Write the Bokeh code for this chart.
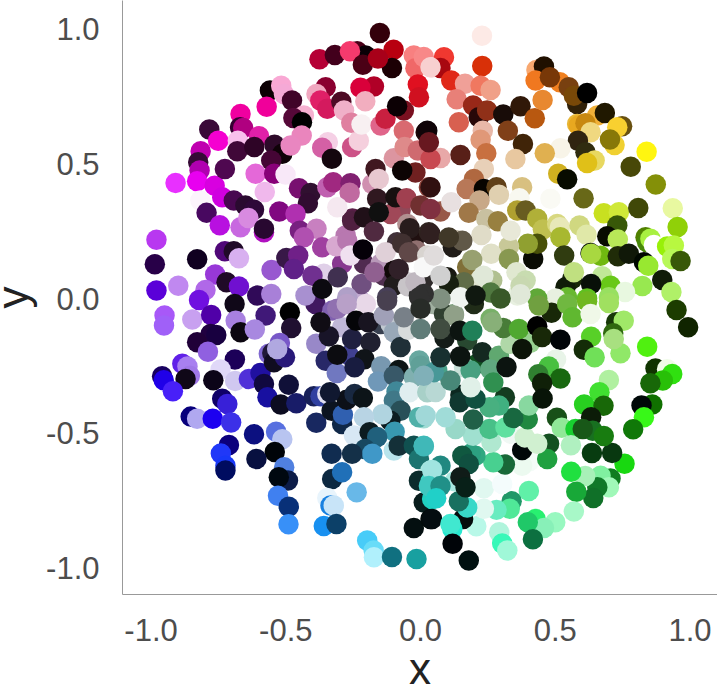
from bokeh.plotting import figure
from bokeh.models import FixedTicker
from bokeh.embed import file_html
from bokeh.resources import INLINE

tick_values = [-1.0, -0.5, 0.0, 0.5, 1.0]
tick_labels = ["-1.0", "-0.5", "0.0", "0.5", "1.0"]

# dense centre, lowest layer
ce_x = [-0.278,-0.291,-0.253,-0.359,-0.421,-0.390,-0.327,-0.228,-0.203,-0.136,
-0.210,-0.148,-0.087,-0.025,-0.015,-0.074,-0.111,-0.099,0.019,-0.049,
0.012,-0.099,0.099,0.049,0.124,0.087,-0.148,-0.111,0.198,0.173,
0.260,0.173,0.223,0.359,0.210,0.062,0.161,0.186,0.012,-0.291]
ce_y = [0.234,0.129,0.297,0.092,0.011,-0.020,-0.044,-0.001,-0.020,0.085,
0.129,0.129,0.209,0.215,0.178,0.327,0.314,0.104,0.122,0.061,
0.073,0.048,0.079,-0.020,-0.057,-0.057,-0.094,-0.094,-0.020,-0.156,
-0.075,0.116,0.073,0.011,-0.242,-0.267,-0.255,-0.267,-0.273,-0.106]
ce_c = ["#b878b0","#883890","#5a2048","#e0d0e8","#b080c0","#401860","#8060b0","#c0a8d0","#e8d8e8","#503050",
"#502a50","#b898b8","#403038","#201010","#907070","#904858","#a04858","#100808","#fafafa","#d0ccd0",
"#302c2c","#201c1c","#181810","#a0b0a0","#80a080","#304030","#384050","#c0c8d0","#202c18","#284830",
"#78b068","#807038","#e0e4d0","#e8f0e0","#105020","#48a088","#c8e0d8","#48a080","#50a0a0","#c0b8d8"]

# upper left
ul_x = [-0.151,-0.100,-0.235,-0.204,-0.375,-0.318,-0.262,-0.106,-0.214,-0.158,
-0.352,-0.386,-0.372,-0.346,-0.294,-0.173,-0.223,-0.205,-0.284,-0.559,
-0.517,-0.507,-0.477,-0.571,-0.668,-0.433,-0.472,-0.440,-0.441,-0.784,
-0.670,-0.658,-0.599,-0.751,-0.678,-0.816,-0.680,-0.617,-0.542,-0.513,
-0.482,-0.344,-0.365,-0.329,-0.254,-0.229,-0.257,-0.219,-0.148,-0.130,
-0.062,-0.087,-0.062,-0.099,-0.059,-0.010,0.019,-0.019,-0.068,-0.825,
-0.820,-0.909,-0.829,-0.764,-0.736,-0.726,-0.817,-0.794,-0.745,-0.668,
-0.693,-0.650,-0.618,-0.639,-0.578,-0.612,-0.554,-0.543,-0.501,-0.451,
-0.408,-0.418,-0.346,-0.324,-0.260,-0.263,-0.309,-0.179,-0.167,-0.155,
-0.161,-0.093,-0.052,0.000,0.031,-0.524,-0.464,-0.581,-0.581,-0.448,
-0.386,-0.433,-0.365,-0.313,-0.272,-0.254,-0.210,-0.155,-0.173,-0.260,
-0.214,-0.130,-0.049,-0.040,0.031,-0.068,-0.043,0.025,-0.980,-0.986,
-0.829,-0.726,-0.693,-0.674,-0.762,-0.720,-0.674,-0.980,-0.899,-0.798,
-0.822,-0.606,-0.554,-0.553,-0.498,-0.454,-0.470,-0.401,-0.427,-0.365,
-0.307,-0.219,-0.171,-0.124,-0.047,-0.006,-0.272,-0.019,-0.081,0.012,
-0.025,-0.019,0.012,0.043,-0.010,-0.006]
ul_y = [0.985,0.923,0.918,0.902,0.888,0.904,0.918,0.856,0.868,0.891,
0.784,0.759,0.735,0.704,0.730,0.787,0.782,0.732,0.698,0.772,
0.790,0.759,0.735,0.712,0.685,0.679,0.670,0.654,0.605,0.627,
0.636,0.633,0.602,0.586,0.586,0.547,0.547,0.562,0.571,0.537,
0.568,0.580,0.560,0.519,0.562,0.586,0.652,0.646,0.642,0.667,
0.698,0.714,0.623,0.521,0.562,0.549,0.617,0.468,0.475,0.506,
0.475,0.429,0.435,0.419,0.376,0.481,0.364,0.318,0.272,0.265,
0.364,0.345,0.330,0.299,0.395,0.463,0.512,0.463,0.460,0.409,
0.392,0.354,0.413,0.432,0.428,0.393,0.339,0.425,0.481,0.444,
0.370,0.376,0.372,0.345,0.413,0.323,0.314,0.246,0.259,0.252,
0.259,0.228,0.190,0.194,0.215,0.289,0.302,0.320,0.249,0.160,
0.182,0.172,0.277,0.261,0.246,0.203,0.172,0.160,0.218,0.127,
0.146,0.176,0.176,0.150,0.089,0.061,0.045,0.030,0.048,0.032,
-0.005,0.011,0.017,0.106,0.151,0.160,0.110,0.085,0.011,0.036,
0.079,0.054,0.098,0.005,0.046,0.011,0.005,0.061,0.110,0.116,
0.902,0.855,0.896,0.858,0.794,0.747]
ul_c = ["#33000a","#b80010","#4a0018","#0a0006","#b50035","#42001c","#f53a6d","#1c0004","#4a0015","#a80019",
"#8a0030","#f0a8c0","#e01f67","#d41a5e","#4d0a24","#b00027","#d9003a","#f2aebf","#f0b0c8","#0c0004",
"#f9a8d4","#f5a9d6","#400428","#f0009a","#f000a0","#f5b0d0","#550838","#000000","#ea85bd","#3a0a38",
"#340030","#b00080","#e020a8","#f500d0","#f8c0ec","#c000b0","#400838","#2e0426","#2e0a2a","#0f0208",
"#e986c0","#f5d0e5","#d460a5","#14060e","#cd5287","#f5cfdd","#e080a0","#f8f0f2","#e0658a","#c92040",
"#7a1020","#0c0004","#d96a70","#dc95a0","#de8a8a","#cf6a70","#1c0808","#702020","#0c0404","#350a35",
"#b000b0","#e830ff","#e800f0","#d800e0","#d000e0","#4f0850","#fcf4fc","#480860","#b810e0","#c868e0",
"#480850","#2a0a30","#2e0838","#d88ae0","#f0b8ec","#e468d8","#450535","#880078","#f8e8f8","#781070",
"#301030","#300c30","#c060b0","#a02880","#802070","#c06aa0","#f5e8f0","#d090b0","#401820","#e8c8d0",
"#301820","#181010","#a04050","#703030","#8a4038","#800880","#b030b0","#b010c0","#280830","#782080",
"#c880c0","#b050b0","#a040a0","#d8a8d0","#b878b0","#502040","#201018","#101010","#502a40","#f0e0f0",
"#050008","#e0d0d8","#b09090","#281c1c","#302420","#403030","#604848","#d8d4d0","#b838f0","#280048",
"#100020","#500878","#200a28","#d8b0f0","#9838d8","#200a28","#7010d0","#5a00d8","#c088f0","#b068e8",
"#7010e0","#300a58","#a880d8","#9858d0","#381848","#702088","#602088","#703090","#a890d0","#0c0a10",
"#403050","#705080","#906090","#484058","#c8c4c8","#2a2a2a","#b0a0c8","#c0b8c0","#302028","#f8f8f8",
"#f88080","#f06868","#f88888","#f8d0d0","#e01020","#d01020"]

# upper right
ur_x = [0.228,0.229,0.087,0.074,0.037,0.114,0.165,0.223,0.260,0.134,
0.142,0.195,0.216,0.247,0.307,0.371,0.424,0.453,0.430,0.458,
0.427,0.517,0.480,0.581,0.550,0.569,0.618,0.656,0.684,0.748,
0.730,0.581,0.587,0.612,0.631,0.584,0.612,0.720,0.703,0.839,
0.780,0.646,0.618,0.519,0.461,0.511,0.544,0.324,0.380,0.352,
0.231,0.223,0.244,0.148,0.074,0.037,0.025,0.031,0.235,0.198,
0.171,0.235,0.282,0.377,0.291,0.367,0.482,0.605,0.219,0.179,
0.074,0.114,0.037,0.037,0.244,0.287,0.359,0.390,0.433,0.454,
0.507,0.517,0.519,0.590,0.616,0.680,0.736,0.730,0.808,0.873,
0.936,0.954,0.693,0.732,0.668,0.631,0.633,0.732,0.773,0.835,
0.841,0.853,0.866,0.915,0.940,0.934,0.965,0.829,0.845,0.897,
0.823,0.931,0.533,0.418,0.433,0.398,0.328,0.262,0.192,0.226,
0.334,0.328,0.356,0.390,0.371,0.266,0.233,0.161,0.105,0.074,
0.049,0.136,0.120,0.155,0.037,0.105,0.563,0.538,0.569,0.674,
0.705,0.633,0.759,0.699,0.618,0.544,0.501,0.433,0.260,0.297,
0.371,0.148,0.204,0.074,0.012]
ur_y = [0.975,0.863,0.895,0.856,0.858,0.809,0.797,0.790,0.774,0.740,
0.654,0.716,0.673,0.698,0.683,0.714,0.669,0.737,0.848,0.861,
0.809,0.803,0.821,0.722,0.784,0.753,0.763,0.679,0.689,0.639,
0.636,0.648,0.642,0.651,0.617,0.586,0.543,0.570,0.590,0.545,
0.489,0.512,0.503,0.558,0.539,0.463,0.443,0.623,0.574,0.518,
0.623,0.589,0.539,0.533,0.522,0.518,0.623,0.580,0.481,0.444,
0.407,0.407,0.413,0.413,0.385,0.372,0.370,0.372,0.364,0.318,
0.323,0.357,0.413,0.332,0.295,0.287,0.327,0.327,0.296,0.256,
0.277,0.265,0.228,0.271,0.237,0.317,0.320,0.271,0.336,0.423,
0.335,0.266,0.231,0.219,0.159,0.169,0.166,0.157,0.166,0.228,
0.209,0.222,0.199,0.193,0.197,0.147,0.139,0.135,0.122,0.069,
0.047,0.024,0.160,0.147,0.203,0.203,0.193,0.166,0.143,0.236,
0.252,0.147,0.098,0.067,0.048,0.067,0.085,0.061,0.054,0.085,
0.160,0.216,0.190,0.215,0.240,0.227,0.073,0.042,0.098,0.083,
0.048,0.054,0.024,0.005,0.000,0.005,0.000,0.000,0.023,0.000,
0.016,0.005,0.011,-0.001,0.017]
ur_c = ["#fdeae6","#d83008","#f03830","#a80810","#f8d0d0","#e02818","#f0a098","#f07860","#f0a088","#e88078",
"#d86050","#982818","#280808","#903018","#180c08","#301808","#b85810","#e88830","#f8a870","#201000",
"#f07820","#f08020","#783808","#302008","#784010","#784808","#000000","#f0b038","#201800","#685010",
"#f8d030","#e8b838","#e8a820","#c88810","#f0d880","#302410","#302c10","#f0d030","#887808","#fff510",
"#484808","#e8d860","#e0c018","#f8f4e8","#e0b050","#d0b020","#080c00","#804018","#402408","#e8c8a0",
"#e8b8a8","#e09878","#c87040","#582018","#e8a8a8","#c84850","#100408","#681820","#e8d0b8","#b06840",
"#b87858","#080400","#604018","#d8c080","#e0d0b0","#f8f8f0","#fafaf4","#686818","#c8a888","#a07848",
"#985848","#e8e0e0","#301010","#803040","#c8c0a0","#988040","#b0a030","#685c20","#b0b038","#c0c050",
"#d8d880","#e8e8b8","#a8b830","#d0d880","#e0e8a8","#c8e020","#d0e838","#385808","#404808","#849008",
"#e8f8a0","#90d008","#080c00","#b8e858","#70b810","#000800","#a8d840","#202c08","#101808","#508000",
"#488808","#a8f040","#ffffff","#98f008","#b8f840","#b8f858","#385808","#000800","#98e830","#101c08",
"#98e850","#b0f068","#303c10","#0a0c04","#485008","#90a030","#c8c898","#e0e0c8","#98a070","#e0dcc8",
"#e8e8d8","#889850","#e0e8d0","#c8dcb0","#c8d8b0","#b0c090","#e0e8d8","#606c48","#182010","#d0d0d0",
"#e0dcdc","#c8c0b0","#201c18","#605848","#302020","#403828","#182808","#101c08","#c0e080","#c0e898",
"#68c818","#081008","#e8f8e0","#98e060","#60c020","#68b830","#e8f0e0","#60a838","#507840","#385828",
"#e0e8d8","#f0f4f0","#101810","#809080","#303030"]

# lower left
ll_x = [-0.950,-0.952,-0.847,-0.777,-0.690,-0.686,-0.668,-0.575,-0.615,-0.485,
-0.480,-0.779,-0.758,-0.829,-0.789,-0.689,-0.884,-0.865,-0.856,-0.872,
-0.742,-0.769,-0.688,-0.637,-0.594,-0.581,-0.522,-0.563,-0.550,-0.544,
-0.503,-0.532,-0.387,-0.489,-0.568,-0.519,-0.461,-0.396,-0.371,-0.346,
-0.959,-0.953,-0.919,-0.736,-0.717,-0.853,-0.829,-0.771,-0.703,-0.711,
-0.741,-0.724,-0.724,-0.618,-0.536,-0.513,-0.541,-0.609,-0.506,-0.492,
-0.526,-0.529,-0.489,-0.490,-0.387,-0.330,-0.291,-0.288,-0.274,-0.245,
-0.214,-0.336,-0.352,-0.311,-0.266,-0.309,-0.254,-0.340,-0.371,-0.309,
-0.274,-0.239,-0.194,-0.186,-0.208,-0.245,-0.136,-0.099,-0.074,-0.046,
0.000,-0.062,-0.124,-0.005,0.000,-0.146,-0.081,-0.158,-0.005,-0.025,
-0.099,-0.089,-0.099,-0.074,-0.041,-0.112,-0.142,-0.210,-0.247,-0.189,
-0.096,-0.161,-0.206,-0.179,-0.254,-0.330,-0.328,-0.291,-0.237,-0.346,
-0.334,-0.322,-0.359,-0.312,-0.198,-0.174,-0.173,-0.106,-0.015,-0.025,
-0.099,-0.081,0.012,-0.006,-0.025,0.012,-0.006,0.037,-0.006,0.037,
0.012,0.037,0.043,0.000,0.025]
ll_y = [-0.063,-0.100,-0.078,-0.061,-0.020,-0.082,-0.125,-0.063,-0.115,-0.051,
-0.109,-0.131,-0.135,-0.162,-0.197,-0.226,-0.242,-0.252,-0.286,-0.298,
-0.263,-0.303,-0.306,-0.298,-0.276,-0.317,-0.165,-0.205,-0.202,-0.236,
-0.218,-0.187,-0.168,-0.320,-0.366,-0.393,-0.388,-0.362,-0.362,-0.354,
-0.288,-0.303,-0.344,-0.372,-0.391,-0.438,-0.446,-0.446,-0.460,-0.543,
-0.575,-0.620,-0.638,-0.503,-0.494,-0.522,-0.569,-0.595,-0.626,-0.675,
-0.663,-0.732,-0.772,-0.837,-0.461,-0.416,-0.465,-0.431,-0.375,-0.354,
-0.369,-0.348,-0.231,-0.276,-0.210,-0.208,-0.150,-0.140,-0.088,-0.038,
-0.020,-0.082,-0.088,-0.162,-0.225,-0.255,-0.063,-0.125,-0.180,-0.116,
-0.113,-0.069,-0.008,0.005,-0.038,-0.251,-0.265,-0.308,-0.230,-0.292,
-0.286,-0.345,-0.379,-0.416,-0.348,-0.453,-0.429,-0.440,-0.508,-0.496,
-0.494,-0.514,-0.558,-0.576,-0.576,-0.576,-0.669,-0.644,-0.719,-0.740,
-0.768,-0.768,-0.844,-0.836,-0.898,-0.935,-0.960,-0.959,-0.966,-0.851,
-0.564,-0.546,-0.444,-0.440,-0.546,-0.546,-0.595,-0.638,-0.676,-0.680,
-0.757,-0.818,-0.744,-0.249,-0.348]
ll_c = ["#a858f8","#a060f8","#c8a0f0","#5000a8","#100818","#a880e0","#0c0610","#401878","#a888e0","#000000",
"#201030","#200040","#180040","#200038","#9060e0","#1c0058","#6020e8","#a880f0","#a078e8","#100818",
"#e0d8f8","#0c0418","#d0c8f0","#5030d8","#2010a0","#100840","#7858c8","#8068d0","#201838","#100c20",
"#281878","#b0a8e0","#9888c8","#101038","#1810a0","#0c0c20","#181c68","#182058","#3040a0","#e0e0f0",
"#180060","#2000e8","#4820f8","#100068","#3820d8","#08007c","#b0a8f0","#1c00f0","#3c30e8","#0c007c",
"#2038f8","#1838f8","#000c60","#0c1080","#5870e0","#b8c4f0","#000408","#081040","#5080e0","#0c1c48",
"#000810","#4080f0","#083078","#3890f8","#182860","#0c1420","#102848","#3060b0","#0c1018","#182840",
"#0c1418","#101830","#282868","#7078c0","#404090","#0c0c10","#202040","#181428","#100c14","#9070b0",
"#b8a0c8","#050508","#181420","#202030","#101418","#181c40","#a0a0b8","#98a8b8","#203038","#d8dcdc",
"#607c78","#788088","#484050","#303030","#282c28","#7898b0","#0c1414","#7098b8","#68a8a0","#80b0b0",
"#385868","#408898","#407888","#285058","#e0eef0","#0c1c20","#b0d4e0","#b8d4e4","#d8e8f4","#0c1c20",
"#3898b0","#20607c","#184860","#4098c8","#143048","#102c50","#0c2840","#2070b8","#68b8e8","#e8f4fc",
"#1880e0","#c8e4f8","#1890f0","#0c4068","#48ccf8","#68dcf8","#b0f0fc","#107080","#18a0a0","#040f10",
"#b8e4ec","#143038","#a0dcd4","#50b0a8","#105050","#40c0b8","#1c7470","#a8e8e0","#0c2c2c","#40d8c8",
"#081c1c","#040c0c","#20d0c0","#60a098","#a8d0c8"]

# lower right
lr_x = [0.950,0.993,0.841,0.872,0.915,0.934,0.899,0.853,0.860,0.820,
0.829,0.789,0.757,0.711,0.636,0.705,0.668,0.699,0.656,0.641,
0.611,0.559,0.578,0.569,0.500,0.427,0.458,0.398,0.417,0.402,
0.338,0.331,0.282,0.292,0.303,0.322,0.207,0.235,0.235,0.303,
0.404,0.377,0.313,0.270,0.377,0.204,0.186,0.155,0.179,0.263,
0.195,0.256,0.336,0.387,0.315,0.398,0.344,0.402,0.313,0.291,
0.256,0.195,0.130,0.093,0.019,0.148,0.145,0.204,0.056,0.111,
0.186,0.049,0.012,0.074,0.147,0.089,0.124,0.074,0.146,0.192,
0.229,0.291,0.259,0.270,0.319,0.334,0.406,0.307,0.266,0.365,
0.433,0.451,0.377,0.519,0.486,0.439,0.544,0.564,0.618,0.633,
0.606,0.646,0.631,0.699,0.726,0.754,0.715,0.742,0.717,0.503,
0.476,0.437,0.519,0.451,0.699,0.664,0.607,0.679,0.633,0.453,
0.506,0.524,0.575,0.639,0.680,0.602,0.558,0.477,0.470,0.433,
0.158,0.173,0.142,0.127,0.148,0.167,0.074,0.043,0.012,0.031,
0.074,0.058,0.043,0.118,0.111,0.119,0.179]
lr_y = [-0.042,-0.106,-0.179,-0.259,-0.262,-0.280,-0.304,-0.314,-0.393,-0.397,
-0.440,-0.485,-0.613,-0.573,-0.573,-0.668,-0.657,-0.700,-0.700,-0.740,
-0.658,-0.643,-0.717,-0.790,-0.830,-0.818,-0.851,-0.830,-0.893,-0.714,
-0.752,-0.780,-0.784,-0.867,-0.909,-0.935,-0.845,-0.780,-0.704,-0.688,
-0.604,-0.620,-0.616,-0.607,-0.562,-0.583,-0.576,-0.583,-0.614,-0.533,
-0.509,-0.484,-0.502,-0.515,-0.478,-0.448,-0.443,-0.397,-0.366,-0.397,
-0.403,-0.449,-0.484,-0.440,-0.434,-0.358,-0.385,-0.372,-0.347,-0.304,
-0.329,-0.273,-0.286,-0.218,-0.215,-0.146,-0.063,-0.113,-0.119,-0.119,
-0.199,-0.212,-0.263,-0.311,-0.254,-0.168,-0.165,-0.109,-0.088,-0.113,
-0.103,-0.143,-0.187,-0.153,-0.053,-0.026,-0.020,-0.069,-0.010,-0.142,
-0.190,-0.218,-0.057,-0.016,-0.088,-0.082,-0.129,-0.203,-0.150,-0.226,
-0.252,-0.281,-0.297,-0.313,-0.302,-0.348,-0.393,-0.398,-0.440,-0.371,
-0.442,-0.479,-0.484,-0.490,-0.510,-0.484,-0.544,-0.539,-0.595,-0.539,
-0.818,-0.775,-0.752,-0.678,-0.663,-0.700,-0.620,-0.636,-0.548,-0.695,
-0.695,-0.741,-0.818,-0.855,-0.836,-0.910,-0.972]
lr_c = ["#1c3c00","#102400","#50f010","#103400","#f0fce8","#30e010","#28c008","#186808","#107000","#000808",
"#38f818","#107808","#18d810","#083810","#083c10","#107c20","#80f0a0","#a0f8b8","#107828","#107028",
"#a8f0b8","#20e040","#18a838","#a8f8c8","#98f8c0","#28f070","#88f0b8","#20c868","#0c7040","#60f0a8",
"#209868","#50e898","#68ecc0","#b0f4dc","#38f8b8","#a0f8d8","#b8f8e8","#e0f8f0","#e0f8f0","#f4fcfc",
"#f4fcf8","#ecfaf0","#186838","#48d090","#000808","#30a880","#2ca080","#105840","#105040","#b0e8d0",
"#a0e0d0","#48c088","#f0f8f4","#d0f0d0","#60e0a0","#208840","#186840","#88d8a0","#143c20","#40b080",
"#48b080","#206048","#98d8c8","#a0dcd8","#a0d8d8","#0c2820","#103830","#105040","#b8d8d4","#488878",
"#e0f0e8","#489898","#80b0b8","#183030","#0c1410","#141c18","#90a088","#404c40","#0c1410","#208058",
"#142820","#60a870","#60a880","#309050","#0c1410","#b0d8a8","#98d090","#487c38","#88b078","#50a830",
"#000000","#182808","#0c1408","#000408","#182808","#70a040","#70b840","#60b830","#70b820","#58d028",
"#142c08","#70e058","#f0f8e8","#a0e060","#183808","#a0e868","#306810","#90e868","#a8e080","#e8f4e8",
"#48c040","#308030","#186810","#102008","#b0f0a0","#40e030","#28d020","#186808","#0c1c08","#081408",
"#185018","#90e898","#18d030","#187020","#187c10","#185818","#b0f0c0","#145020","#20a040","#d0f0d0",
"#040c0c","#38d8c8","#187060","#a8e8e0","#101c18","#082018","#208880","#a0e4e0","#40b8b8","#40c8c0",
"#209088","#20d0c8","#040c10","#28e8d0","#40e8d0","#000408","#001010"]

p = figure(output_backend="svg", toolbar_location=None,
           frame_width=595, frame_height=594,
           x_range=(-1.106, 1.102), y_range=(-1.098, 1.106),
           min_border_left=0, min_border_right=0, min_border_top=0, min_border_bottom=0,
           margin=(0, 0, 0, -15))
p.grid.visible = False
p.outline_line_color = None
p.background_fill_color = "white"

for xs, ys, cs in ((ce_x, ce_y, ce_c), (ul_x, ul_y, ul_c), (ur_x, ur_y, ur_c), (ll_x, ll_y, ll_c), (lr_x, lr_y, lr_c)):
    n = min(len(xs), len(ys), len(cs))
    p.scatter(xs[:n], ys[:n], size=20.5, color=cs[:n], line_color=None)

for ax, label in ((p.xaxis[0], "x"), (p.yaxis[0], "y")):
    ax.ticker = FixedTicker(ticks=tick_values)
    ax.major_label_overrides = dict(zip(tick_values, tick_labels))
    ax.major_tick_line_color = None
    ax.minor_tick_line_color = None
    ax.axis_line_color = "#999999"
    ax.axis_line_width = 1
    ax.major_label_text_font = "Liberation Sans"
    ax.major_label_text_font_size = "31px"
    ax.major_label_text_color = "#4d4d4d"
    ax.axis_label = label
    ax.axis_label_text_font = "Liberation Sans"
    ax.axis_label_text_font_size = "44px"
    ax.axis_label_text_font_style = "normal"
    ax.axis_label_text_color = "#222222"
p.xaxis[0].major_label_standoff = 18
p.yaxis[0].major_label_standoff = 17
p.xaxis[0].axis_label_standoff = 0
p.yaxis[0].axis_label_standoff = 6

open("out.html", "w").write(file_html(p, INLINE))
